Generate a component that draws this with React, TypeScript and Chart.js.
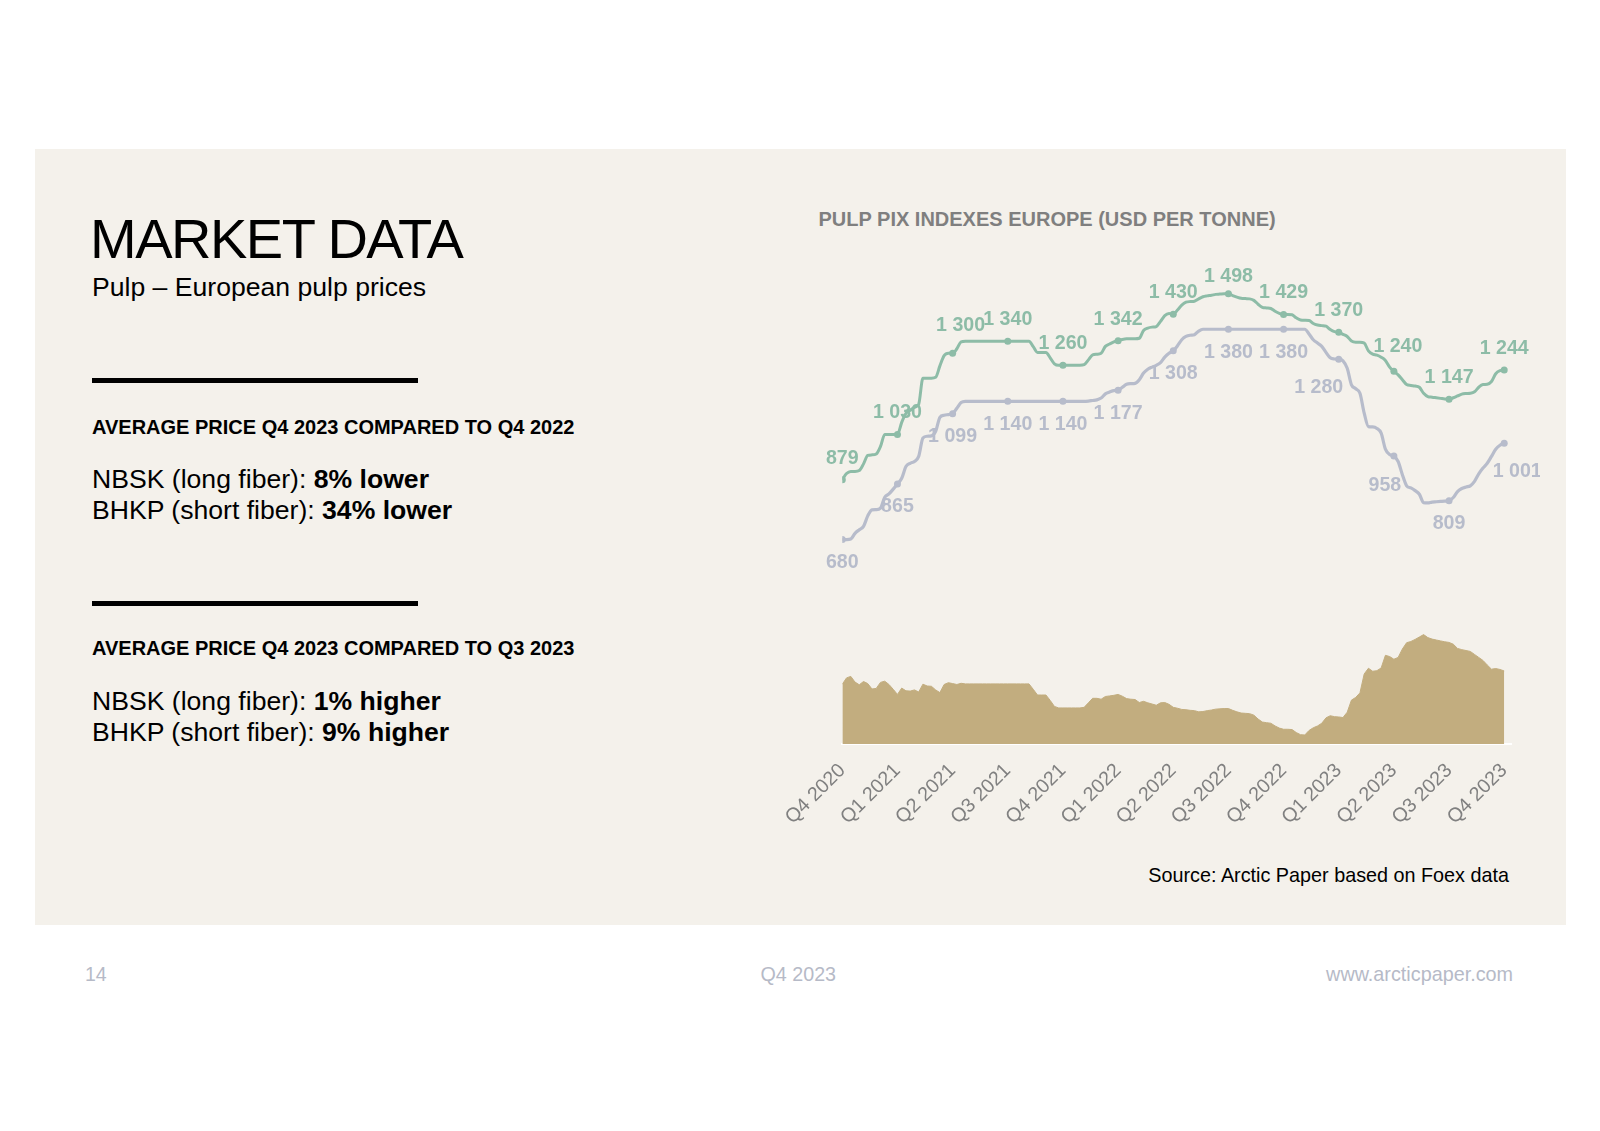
import React, { useEffect, useRef } from "react";
import { Chart, registerables } from "chart.js";

Chart.register(...registerables);

// ---------- DATA ----------
const quarterLabels = [
  "Q4 2020", "Q1 2021", "Q2 2021", "Q3 2021", "Q4 2021", "Q1 2022", "Q2 2022",
  "Q3 2022", "Q4 2022", "Q1 2023", "Q2 2023", "Q3 2023", "Q4 2023",
];
const WEEKS_PER_QUARTER = 13;

// NBSK (long fiber) PIX Europe, weekly, USD/t
const nbskWeekly = [
  879, 900, 907, 907, 910, 932, 960, 962, 965, 990, 1030, 1030, 1030,
  1030, 1070, 1100, 1110, 1120, 1130, 1217, 1217, 1217, 1220, 1258, 1292, 1300,
  1300, 1315, 1338, 1340, 1340, 1340, 1340, 1340, 1340, 1340, 1340, 1340, 1340,
  1340, 1340, 1340, 1340, 1340, 1340, 1322, 1303, 1303, 1303, 1285, 1265, 1260,
  1260, 1260, 1260, 1260, 1260, 1262, 1278, 1295, 1297, 1300, 1323, 1331, 1338,
  1342, 1346, 1348, 1348, 1348, 1350, 1376, 1384, 1387, 1389, 1406, 1425, 1432,
  1430, 1444, 1460, 1470, 1472, 1473, 1481, 1488, 1491, 1493, 1496, 1497, 1498,
  1498, 1492, 1487, 1483, 1482, 1481, 1476, 1463, 1453, 1451, 1449, 1440, 1433,
  1429, 1429, 1428, 1418, 1411, 1410, 1409, 1399, 1394, 1392, 1390, 1379, 1372,
  1370, 1363, 1356, 1341, 1337, 1337, 1334, 1308, 1297, 1294, 1287, 1276, 1254,
  1240, 1228, 1212, 1196, 1193, 1191, 1187, 1167, 1156, 1154, 1152, 1150, 1148,
  1147, 1152, 1158, 1164, 1166, 1167, 1172, 1187, 1196, 1197, 1206, 1232, 1242,
  1244,
];

// BHKP (short fiber) PIX Europe, weekly, USD/t
const bhkpWeekly = [
  680, 680, 682, 701, 713, 724, 759, 779, 780, 785, 821, 832, 848,
  865, 884, 923, 934, 940, 957, 1018, 1024, 1025, 1040, 1087, 1094, 1096,
  1099, 1117, 1136, 1140, 1140, 1140, 1140, 1140, 1140, 1140, 1140, 1140, 1140,
  1140, 1140, 1140, 1140, 1140, 1140, 1140, 1140, 1140, 1140, 1140, 1140, 1140,
  1140, 1140, 1140, 1140, 1140, 1140, 1141, 1143, 1145, 1151, 1165, 1171, 1176,
  1177, 1187, 1197, 1199, 1200, 1212, 1234, 1247, 1254, 1260, 1269, 1287, 1300,
  1308, 1325, 1345, 1356, 1360, 1362, 1374, 1380, 1380, 1380, 1380, 1380, 1380,
  1380, 1380, 1380, 1380, 1380, 1380, 1380, 1380, 1380, 1380, 1380, 1380, 1380,
  1380, 1380, 1380, 1380, 1380, 1380, 1364, 1345, 1334, 1323, 1303, 1285, 1281,
  1280, 1275, 1250, 1195, 1182, 1167, 1101, 1056, 1055, 1050, 1034, 981, 963,
  958, 940, 896, 859, 852, 843, 831, 803, 802, 805, 806, 807, 808,
  809, 820, 840, 850, 855, 859, 874, 899, 918, 934, 957, 981, 994,
  1001,
];

// NBSK - BHKP spread, weekly, USD/t (shaded area)
const spreadWeekly = [
  199, 220, 225, 206, 197, 208, 201, 183, 185, 205, 209, 198, 182,
  165, 186, 177, 176, 180, 173, 199, 193, 192, 180, 171, 198, 204,
  201, 198, 202, 200, 200, 200, 200, 200, 200, 200, 200, 200, 200,
  200, 200, 200, 200, 200, 200, 182, 163, 163, 163, 145, 125, 120,
  120, 120, 120, 120, 120, 122, 137, 152, 152, 149, 158, 160, 162,
  165, 159, 151, 149, 148, 138, 142, 137, 133, 129, 137, 138, 132,
  122, 119, 115, 114, 112, 111, 107, 108, 111, 113, 116, 117, 118,
  118, 112, 107, 103, 102, 101, 96, 83, 73, 71, 69, 60, 53,
  49, 49, 48, 38, 31, 30, 45, 54, 60, 69, 87, 94, 91,
  90, 88, 106, 146, 155, 170, 233, 252, 242, 244, 253, 295, 291,
  282, 288, 316, 337, 341, 348, 356, 364, 354, 349, 346, 343, 340,
  338, 332, 318, 314, 311, 308, 298, 288, 278, 263, 249, 251, 248,
  243,
];

// ---------- STYLE ----------
const FONT = '"Liberation Sans", Arial, Helvetica, sans-serif';
const GREEN = "#8dbca7";
const GRAY = "#b7bccb";
const TAN = "#c2ad7f";
const PANEL = "#f4f1eb";
const FOOT = "#b6bac7";

const fmt = (v: number) => String(v).replace(/\B(?=(\d{3})+(?!\d))/g, " ");
const toPoints = (arr: number[]) => arr.map((y, x) => ({ x, y }));

const labelPlugin = {
  id: "quarterValueLabels",
  afterDatasetsDraw(chart: any) {
    const ctx = chart.ctx as CanvasRenderingContext2D;
    const cfgs = [
      { ds: 0, src: nbskWeekly, color: GREEN, dy: -21.5, nudge: { 2: [8, -28], 7: [0, -17], 10: [4, -25] } as Record<number, number[]> },
      { ds: 1, src: bhkpWeekly, color: GRAY, dy: 23, nudge: { 9: [-20, 28], 10: [-9, 30], 12: [13, 28] } as Record<number, number[]> },
    ];
    ctx.save();
    ctx.font = `bold 19.6px ${FONT}`;
    ctx.textAlign = "center";
    ctx.textBaseline = "middle";
    for (const c of cfgs) {
      const meta = chart.getDatasetMeta(c.ds);
      ctx.fillStyle = c.color;
      quarterLabels.forEach((_, q) => {
        const idx = q * WEEKS_PER_QUARTER;
        const el = meta.data[idx];
        if (!el) return;
        const n = c.nudge[q];
        const dx = n ? n[0] : 0;
        const dy = n ? n[1] : c.dy;
        ctx.fillText(fmt(c.src[idx]), el.x + dx, el.y + dy);
      });
    }
    ctx.restore();
  },
};

type TextProps = {
  x?: number;
  right?: number;
  baseline: number;
  size: number;
  weight?: number | string;
  color?: string;
  spacing?: number;
  children: React.ReactNode;
};

function Txt({ x, right, baseline, size, weight = 400, color = "#000", spacing = 0, children }: TextProps) {
  const style: React.CSSProperties = {
    position: "absolute",
    top: baseline - 0.8465 * size,
    fontSize: size,
    lineHeight: `${size}px`,
    fontWeight: weight as any,
    color,
    whiteSpace: "nowrap",
    letterSpacing: spacing,
    fontFamily: FONT,
  };
  if (right !== undefined) style.right = 1600 - right;
  else style.left = x;
  return <div style={style}>{children}</div>;
}

const CANVAS_LEFT = 740;
const CANVAS_TOP = 190;
const CANVAS_W = 800;
const CANVAS_H = 660;

export default function App() {
  const canvasRef = useRef<HTMLCanvasElement>(null);

  useEffect(() => {
    const canvas = canvasRef.current;
    if (!canvas) return;
    const chart = new Chart(canvas, {
      type: "line",
      data: {
        datasets: [
          {
            label: "NBSK",
            data: toPoints(nbskWeekly),
            borderColor: GREEN,
            backgroundColor: GREEN,
            borderWidth: 3,
            pointRadius: (ctx: any) => (ctx.dataIndex % WEEKS_PER_QUARTER === 0 ? 3.5 : 0),
            pointBorderWidth: 0,
            pointHoverRadius: 0,
            cubicInterpolationMode: "monotone",
            fill: false,
          },
          {
            label: "BHKP",
            data: toPoints(bhkpWeekly),
            borderColor: GRAY,
            backgroundColor: GRAY,
            borderWidth: 3.2,
            pointRadius: (ctx: any) => (ctx.dataIndex % WEEKS_PER_QUARTER === 0 ? 3.5 : 0),
            pointBorderWidth: 0,
            pointHoverRadius: 0,
            cubicInterpolationMode: "monotone",
            fill: false,
          },
          {
            label: "Spread",
            data: toPoints(spreadWeekly),
            borderColor: TAN,
            backgroundColor: TAN,
            borderWidth: 1,
            pointRadius: 0,
            tension: 0,
            fill: "origin",
          },
        ],
      } as any,
      options: {
        responsive: false,
        animation: false,
        events: [],
        layout: { padding: { left: 842.3 - CANVAS_LEFT, right: CANVAS_LEFT + CANVAS_W - 1511, top: 13, bottom: 16 } },
        plugins: {
          legend: { display: false },
          tooltip: { enabled: false },
          title: { display: false },
        },
        scales: {
          x: {
            type: "linear",
            min: 0,
            max: 157.6,
            grid: { display: false, drawTicks: false },
            border: { display: true, color: "#ffffff", width: 2 },
            afterBuildTicks: (scale: any) => {
              scale.ticks = quarterLabels.map((_, i) => ({ value: i * WEEKS_PER_QUARTER }));
            },
            afterFit: (scale: any) => {
              scale.paddingLeft = 0;
              scale.paddingRight = 0;
              scale.height = 90;
            },
            ticks: {
              autoSkip: false,
              minRotation: 45,
              maxRotation: 45,
              padding: 15,
              color: "#808080",
              font: { family: FONT, size: 19.7 },
              callback: (v: any) => quarterLabels[Math.round(Number(v) / WEEKS_PER_QUARTER)] ?? "",
            },
          },
          y: {
            type: "linear",
            display: false,
            min: 0,
            max: 1800,
            afterFit: (scale: any) => {
              scale.paddingTop = 0;
              scale.paddingBottom = 0;
            },
          },
        },
      } as any,
      plugins: [labelPlugin],
    });
    return () => chart.destroy();
  }, []);

  return (
    <div
      style={{
        position: "absolute",
        left: 0,
        top: 0,
        width: 1600,
        height: 1131,
        background: "#ffffff",
        overflow: "hidden",
        fontFamily: FONT,
      }}
    >
      <div style={{ position: "absolute", left: 35, top: 149, width: 1531, height: 776, background: PANEL }} />

      <Txt x={90} baseline={258.3} size={56} spacing={-1.5}>MARKET DATA</Txt>
      <Txt x={92} baseline={297} size={26.6}>Pulp – European pulp prices</Txt>

      <div style={{ position: "absolute", left: 92, top: 378, width: 326, height: 5, background: "#000" }} />
      <Txt x={92} baseline={434} size={20}>
        <b>AVERAGE PRICE Q4 2023 COMPARED TO Q4 2022</b>
      </Txt>
      <Txt x={92} baseline={488.3} size={26.6}>
        NBSK (long fiber): <b>8% lower</b>
      </Txt>
      <Txt x={92} baseline={520} size={26.6}>
        BHKP (short fiber): <b>34% lower</b>
      </Txt>

      <div style={{ position: "absolute", left: 92, top: 601, width: 326, height: 5, background: "#000" }} />
      <Txt x={92} baseline={654.5} size={20}>
        <b>AVERAGE PRICE Q4 2023 COMPARED TO Q3 2023</b>
      </Txt>
      <Txt x={92} baseline={710.3} size={26.6}>
        NBSK (long fiber): <b>1% higher</b>
      </Txt>
      <Txt x={92} baseline={741.7} size={26.6}>
        BHKP (short fiber): <b>9% higher</b>
      </Txt>

      <Txt x={818.5} baseline={226} size={20} weight={700} color="#7f7f7f">
        PULP PIX INDEXES EUROPE (USD PER TONNE)
      </Txt>

      <canvas
        ref={canvasRef}
        width={CANVAS_W}
        height={CANVAS_H}
        style={{ position: "absolute", left: CANVAS_LEFT, top: CANVAS_TOP, width: CANVAS_W, height: CANVAS_H }}
      />

      <Txt right={1509} baseline={882.7} size={19.8}>Source: Arctic Paper based on Foex data</Txt>

      <Txt x={85} baseline={982} size={19.5} color={FOOT}>14</Txt>
      <Txt x={760.5} baseline={981.7} size={19.7} color={FOOT}>Q4 2023</Txt>
      <Txt right={1513} baseline={981.7} size={19.8} color={FOOT}>www.arcticpaper.com</Txt>
    </div>
  );
}
